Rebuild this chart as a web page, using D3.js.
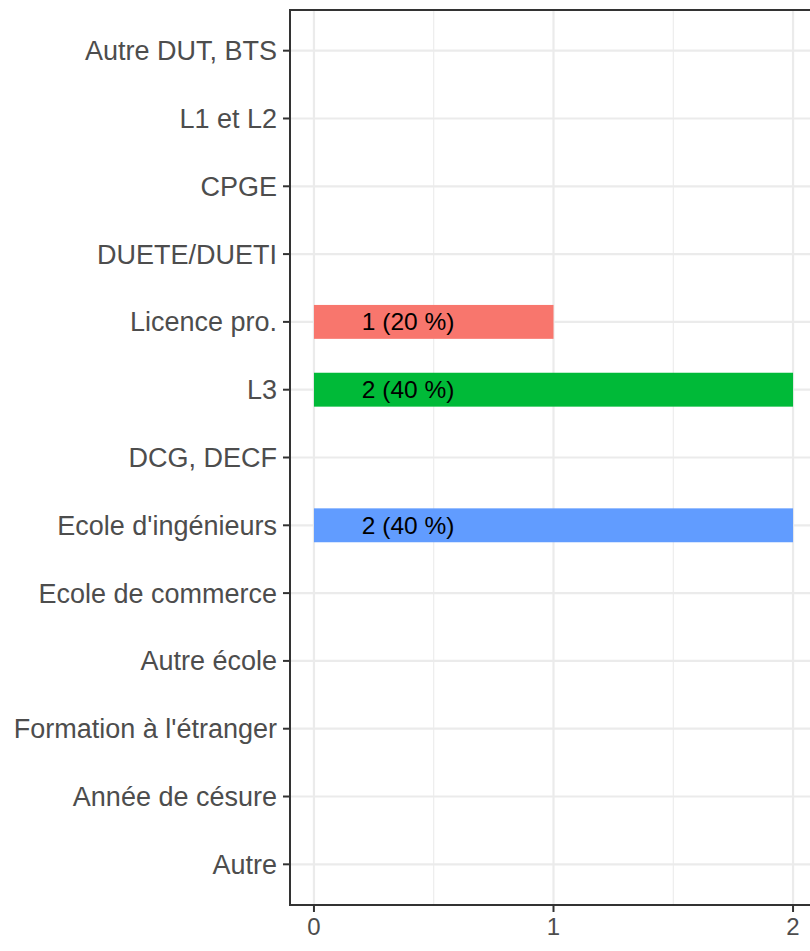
<!DOCTYPE html>
<html>
<head>
<meta charset="utf-8">
<script src="https://cdn.jsdelivr.net/npm/d3@7"></script>
<style>
  body { margin: 0; background: #fff; }
  svg { display: block; }
</style>
</head>
<body>
<svg id="chart" width="810" height="951"></svg>
<script>
// categories top to bottom
const categories = ['Autre DUT, BTS', 'L1 et L2', 'CPGE', 'DUETE/DUETI', 'Licence pro.', 'L3',
  'DCG, DECF', "Ecole d'ingénieurs", 'Ecole de commerce', 'Autre école',
  "Formation à l'étranger", 'Année de césure', 'Autre'];
const counts = [0, 0, 0, 0, 1, 2, 0, 2, 0, 0, 0, 0, 0];
const pctLabels = ['', '', '', '', '1 (20 %)', '2 (40 %)', '', '2 (40 %)', '', '', '', '', ''];
const barColors = { 'Licence pro.': '#F8766D', 'L3': '#00BA38', "Ecole d'ingénieurs": '#619CFF' };
const xTicks = [0, 1, 2];
const xMinor = [0.5, 1.5];

const data = categories.map((c, i) => ({ cat: c, n: counts[i], label: pctLabels[i] }));

const svg = d3.select('#chart');
const panel = { left: 290, top: 10, right: 817, bottom: 905 };
const font = 'Liberation Sans, Arial, sans-serif';

const x = d3.scaleLinear().domain([-0.1, 2.1]).range([panel.left, panel.right]);
const y = d3.scalePoint().domain(categories)
  .range([panel.top, panel.bottom]).padding(0.6);
const step = y.step();

svg.append('defs').append('clipPath').attr('id', 'pclip')
  .append('rect')
  .attr('x', panel.left).attr('y', panel.top)
  .attr('width', panel.right - panel.left).attr('height', panel.bottom - panel.top);

const g = svg.append('g').attr('clip-path', 'url(#pclip)');

// grid
g.selectAll('line.minor').data(xMinor).enter().append('line')
  .attr('x1', d => x(d)).attr('x2', d => x(d))
  .attr('y1', panel.top).attr('y2', panel.bottom)
  .attr('stroke', '#ebebeb').attr('stroke-width', 1.1);
g.selectAll('line.majx').data(xTicks).enter().append('line')
  .attr('x1', d => x(d)).attr('x2', d => x(d))
  .attr('y1', panel.top).attr('y2', panel.bottom)
  .attr('stroke', '#ebebeb').attr('stroke-width', 2.2);
g.selectAll('line.majy').data(categories).enter().append('line')
  .attr('x1', panel.left).attr('x2', panel.right)
  .attr('y1', d => y(d)).attr('y2', d => y(d))
  .attr('stroke', '#ebebeb').attr('stroke-width', 2.2);

// bars
g.selectAll('rect.bar').data(data.filter(d => d.n > 0)).enter().append('rect')
  .attr('x', x(0))
  .attr('y', d => y(d.cat) - step * 0.25)
  .attr('width', d => x(d.n) - x(0))
  .attr('height', step * 0.5)
  .attr('fill', d => barColors[d.cat]);

// labels
g.selectAll('text.lab').data(data.filter(d => d.label)).enter().append('text')
  .attr('x', x(0.2))
  .attr('y', d => y(d.cat))
  .attr('dy', '0.35em')
  .attr('font-family', font)
  .attr('font-size', 24.5)
  .attr('fill', '#000')
  .text(d => d.label);

// border
svg.append('path')
  .attr('d', `M${panel.right + 2},${panel.top}H${panel.left}V${panel.bottom}H${panel.right + 2}`)
  .attr('fill', 'none').attr('stroke', '#333').attr('stroke-width', 2);

// y axis
const yAxis = svg.append('g');
categories.forEach(c => {
  yAxis.append('line')
    .attr('x1', panel.left - 7).attr('x2', panel.left)
    .attr('y1', y(c)).attr('y2', y(c))
    .attr('stroke', '#333').attr('stroke-width', 2);
  yAxis.append('text')
    .attr('x', panel.left - 13).attr('y', y(c))
    .attr('dy', '0.35em')
    .attr('text-anchor', 'end')
    .attr('font-family', font)
    .attr('font-size', 27)
    .attr('fill', '#4d4d4d')
    .text(c);
});

// x axis
const xAxis = svg.append('g');
xTicks.forEach(t => {
  xAxis.append('line')
    .attr('x1', x(t)).attr('x2', x(t))
    .attr('y1', panel.bottom).attr('y2', panel.bottom + 7)
    .attr('stroke', '#333').attr('stroke-width', 2);
  xAxis.append('text')
    .attr('x', x(t)).attr('y', panel.bottom + 30)
    .attr('text-anchor', 'middle')
    .attr('font-family', font)
    .attr('font-size', 24)
    .attr('fill', '#4d4d4d')
    .text(t);
});
</script>
</body>
</html>
